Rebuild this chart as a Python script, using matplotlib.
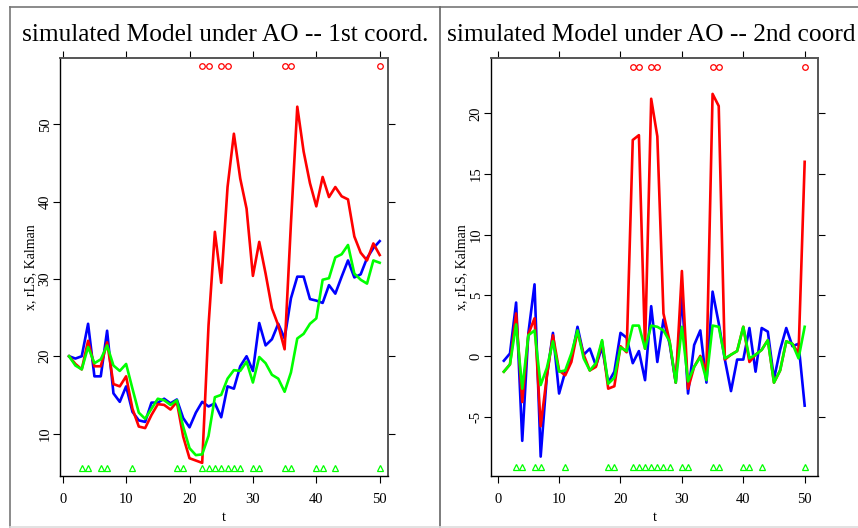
import numpy as np
import matplotlib
matplotlib.use("Agg")
import matplotlib.pyplot as plt
from matplotlib.lines import Line2D

plt.rcParams['font.family'] = ['Liberation Serif', 'DejaVu Serif']

t = np.arange(1, 51)

# 1st coordinate
x1_blue = [20.0, 19.7, 20.0, 24.2, 17.4, 17.4, 23.3, 15.2, 14.1, 16.1,
           12.8, 11.7, 11.5, 14.0, 14.0, 14.5, 13.9, 14.4, 12.0, 10.8,
           12.7, 14.1, 13.5, 13.9, 12.1, 16.1, 15.8, 18.7, 20.0, 18.1,
           24.3, 21.4, 22.2, 24.2, 22.3, 27.5, 30.3, 30.3, 27.4, 27.2,
           26.9, 29.2, 28.1, 30.3, 32.4, 30.2, 30.6, 32.7, 34.0, 34.9]
x1_red = [20.0, 19.0, 18.3, 22.0, 18.7, 18.7, 21.8, 16.4, 16.1, 17.4,
          13.2, 10.9, 10.7, 12.4, 13.8, 13.7, 13.1, 14.1, 9.6, 6.8,
          6.5, 6.2, 24.0, 36.1, 29.5, 41.9, 48.8, 43.0, 39.1, 30.4,
          34.8, 30.7, 26.2, 24.0, 20.9, 37.2, 52.3, 46.5, 42.4, 39.4,
          43.2, 40.6, 41.9, 40.7, 40.3, 35.5, 33.4, 32.4, 34.6, 33.1]
x1_green = [20.0, 18.8, 18.3, 21.2, 19.1, 19.6, 21.4, 18.8, 18.1, 19.0,
            15.8, 12.7, 11.9, 13.2, 14.5, 14.3, 13.7, 14.3, 10.9, 8.1,
            7.2, 7.3, 9.7, 14.7, 15.0, 17.1, 18.2, 18.1, 19.3, 16.6,
            19.9, 19.1, 17.6, 17.1, 15.4, 17.9, 22.3, 22.9, 24.2, 24.9,
            29.9, 30.1, 32.8, 33.2, 34.4, 30.7, 29.9, 29.4, 32.4, 32.1]

# 2nd coordinate
x2_blue = [-0.4, 0.2, 4.4, -7.0, 1.9, 5.9, -8.3, -1.7, 1.9, -3.1,
           -1.3, -0.2, 2.4, 0.1, 0.6, -0.8, 0.7, -2.2, -1.3, 1.9,
           1.5, -0.6, 0.4, -2.0, 4.1, -0.5, 3.0, 1.0, -2.2, 5.0,
           -3.1, 0.9, 2.1, -2.2, 5.3, 2.7, -0.3, -2.9, -0.3, -0.3,
           2.3, -1.3, 2.3, 2.0, -1.9, 0.5, 2.3, 0.8, 1.0, -4.1]
x2_red = [-1.3, -0.7, 3.5, -3.8, 1.8, 3.1, -5.8, -1.7, 1.7, -1.2,
          -1.6, -0.5, 2.0, 0.1, -1.2, -0.9, 1.2, -2.7, -2.5, 0.8,
          0.3, 17.8, 18.2, 0.6, 21.2, 18.1, 3.5, 1.2, -2.2, 7.0,
          -2.7, -0.9, 0.0, -1.3, 21.6, 20.6, -0.3, 0.1, 0.4, 2.4,
          -0.5, 0.1, 0.5, 1.3, -2.2, -1.2, 1.2, 1.0, 0.2, 16.0]
x2_green = [-1.3, -0.7, 2.6, -2.7, 1.7, 2.1, -2.4, -1.0, 1.2, -1.3,
            -1.2, 0.2, 2.1, -0.2, -1.2, -0.6, 1.3, -2.3, -1.8, 0.7,
            0.4, 2.5, 2.5, 0.6, 2.5, 2.4, 2.1, 1.2, -2.2, 2.4,
            -2.1, -0.9, -0.1, -2.0, 2.5, 2.4, -0.2, 0.1, 0.4, 2.4,
            -0.2, 0.1, 0.5, 1.3, -2.2, -1.2, 1.2, 1.0, -0.2, 2.4]

ao_times = [22, 23, 25, 26, 35, 36, 50]
tri_times = [3, 4, 6, 7, 11, 18, 19, 22, 23, 24, 25, 26, 27, 28,
             30, 31, 35, 36, 40, 41, 43, 50]

titles = ["simulated Model under AO -- 1st coord.",
          "simulated Model under AO -- 2nd coord"]
yticks_list = [[10, 20, 30, 40, 50], [-5, 0, 5, 10, 15, 20]]
xticks = [0, 10, 20, 30, 40, 50]
ylims = [(4.5, 58.6), (-9.9, 24.56)]
xlims = [(-0.43, 51.31), (-1.09, 52.17)]
circle_y = [57.6, 23.8]
tri_y = [5.5, -9.15]
series = [(x1_blue, x1_red, x1_green), (x2_blue, x2_red, x2_green)]

W, H = 858, 528
fig = plt.figure(figsize=(W / 100, H / 100), dpi=100)

boxes = [(60, 388), (491, 818)]
top_px, bot_px = 58, 476

for i in range(2):
    l, r = boxes[i]
    ax = fig.add_axes([l / W, (H - bot_px) / H, (r - l) / W, (bot_px - top_px) / H])
    b, rd, g = series[i]
    ax.plot(t, b, color='#0000ff', lw=1.9)
    ax.plot(t, rd, color='#ff0000', lw=1.9)
    ax.plot(t, g, color='#00ff00', lw=1.9)
    ax.plot(ao_times, [circle_y[i]] * len(ao_times), 'o', mfc='none',
            mec='#ff0000', ms=4, mew=0.9)
    ax.plot(tri_times, [tri_y[i]] * len(tri_times), '^', mfc='none',
            mec='#00ff00', ms=4.5, mew=0.9)
    ax.set_xlim(*xlims[i])
    ax.set_ylim(*ylims[i])
    ax.set_xticks(xticks)
    ax.set_yticks(yticks_list[i])
    ax.set_yticklabels([str(v) for v in yticks_list[i]], rotation=90, va='center')
    ax.tick_params(axis='both', direction='out', length=5, width=0.8,
                   labelsize=10.5, top=True, right=True,
                   labeltop=False, labelright=False)
    ax.tick_params(axis='x', pad=7)
    ax.tick_params(axis='y', pad=1)
    for s in ['left', 'bottom']:
        ax.spines[s].set_color('black')
        ax.spines[s].set_linewidth(1.0)
    for s in ['top', 'right']:
        ax.spines[s].set_color('#555555')
        ax.spines[s].set_linewidth(1.4)
    ax.set_xlabel('t', fontsize=10.5, labelpad=4)
    ax.set_ylabel('x, rLS, Kalman', fontsize=10, labelpad=1)

# titles (the right one runs to the edge of the picture)
fig.text(225 / W, 1 - 35 / H, titles[0], fontsize=18.3, ha='center', va='center')
fig.text(447 / W, 1 - 35 / H, titles[1], fontsize=18.3, ha='left', va='center')

# figure frame lines
fig.add_artist(Line2D([10 / W, 1], [1 - 7 / H, 1 - 7 / H], color='#777777', lw=1.2))
fig.add_artist(Line2D([10 / W, 10 / W], [1 - 7 / H, 1 / H], color='#777777', lw=1.2))
fig.add_artist(Line2D([440 / W, 440 / W], [1 - 7 / H, 1 / H], color='#666666', lw=1.2))
fig.add_artist(Line2D([10 / W, 1], [1 / H, 1 / H], color='#dddddd', lw=1.2))

fig.savefig('out.png', dpi=100)
